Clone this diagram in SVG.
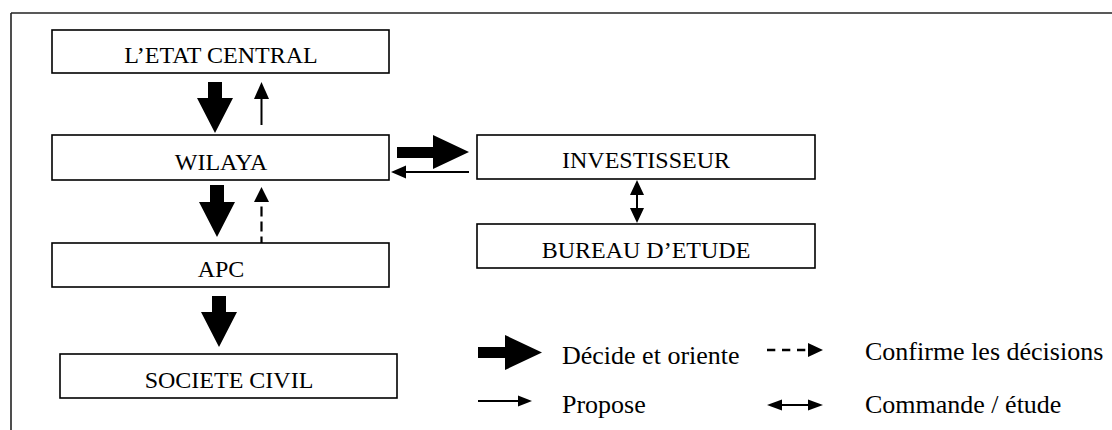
<svg xmlns="http://www.w3.org/2000/svg" width="1112" height="430" viewBox="0 0 1112 430">
<style>
.box{fill:#fff;stroke:#000;stroke-width:1.6}
.lbl{font-family:"Liberation Serif","Times New Roman",serif;font-size:24px;fill:#000;text-anchor:middle}
.leg{font-family:"Liberation Serif","Times New Roman",serif;font-size:26px;fill:#000}
.thin{stroke:#000;stroke-width:2;fill:none}
.dash{stroke:#000;stroke-width:2.2;fill:none;stroke-dasharray:10 5}
.solid{fill:#000;stroke:none}
</style>
<rect width="1112" height="430" fill="#fff"/>
<g id="frame">
<line x1="11" y1="13" x2="1112" y2="13" stroke="#222" stroke-width="1.6"/>
<line x1="11" y1="13" x2="11" y2="430" stroke="#222" stroke-width="1.6"/>
</g>
<g id="etat"><rect class="box" x="52" y="30" width="337" height="43"/><text class="lbl" x="221" y="63">L’ETAT CENTRAL</text></g>
<g id="wilaya"><rect class="box" x="52" y="135" width="337" height="45"/><text class="lbl" x="221" y="170">WILAYA</text></g>
<g id="apc"><rect class="box" x="52" y="243" width="337" height="44"/><text class="lbl" x="221" y="277">APC</text></g>
<g id="societe"><rect class="box" x="60" y="354" width="337" height="44"/><text class="lbl" x="229" y="388">SOCIETE CIVIL</text></g>
<g id="investisseur"><rect class="box" x="477" y="135" width="338" height="44"/><text class="lbl" x="646" y="168">INVESTISSEUR</text></g>
<g id="bureau"><rect class="box" x="477" y="224" width="338" height="44"/><text class="lbl" x="646" y="258">BUREAU D’ETUDE</text></g>
<g id="connectors">
<polygon class="solid" points="208,82 222,82 222,98 233,98 215,133 197,98 208,98"/>
<line class="thin" x1="261.5" y1="125" x2="261.5" y2="97"/>
<polygon class="solid" points="254,99 269,99 261.5,82"/>
<polygon class="solid" points="210,185 224,185 224,202 235,202 217,237 199,202 210,202"/>
<line class="dash" x1="261.5" y1="206.5" x2="261.5" y2="243"/>
<polygon class="solid" points="254,202 269,202 261.5,187"/>
<polygon class="solid" points="212,296 226,296 226,312 237,312 219,347 201,312 212,312"/>
<polygon class="solid" points="397,147 433,147 433,135 469,152 433,169 433,158 397,158"/>
<line class="thin" x1="469" y1="172" x2="404" y2="172"/>
<polygon class="solid" points="406,165.5 406,178.5 391,172"/>
<line class="thin" x1="637" y1="193" x2="637" y2="210"/>
<polygon class="solid" points="630,195 644,195 637,180"/>
<polygon class="solid" points="630,208 644,208 637,223"/>
</g>
<g id="legend">
<polygon class="solid" points="478,347 505,347 505,335 542,352.5 505,370 505,358 478,358"/>
<text class="leg" x="562" y="364">Décide et oriente</text>
<line x1="767" y1="350" x2="808" y2="350" stroke="#000" stroke-width="2.4" stroke-dasharray="8.3 6.7"/>
<polygon class="solid" points="808,343 823,350 808,357"/>
<text class="leg" x="865" y="360">Confirme les décisions</text>
<line class="thin" x1="478" y1="401" x2="520" y2="401"/>
<polygon class="solid" points="518,395.5 532,401 518,406.5"/>
<text class="leg" x="562" y="413">Propose</text>
<line class="thin" x1="775" y1="405" x2="815" y2="405"/>
<polygon class="solid" points="767,405 782,399.5 782,410.5"/>
<polygon class="solid" points="823,405 808,399.5 808,410.5"/>
<text class="leg" x="865" y="413">Commande / étude</text>
</g>
</svg>
